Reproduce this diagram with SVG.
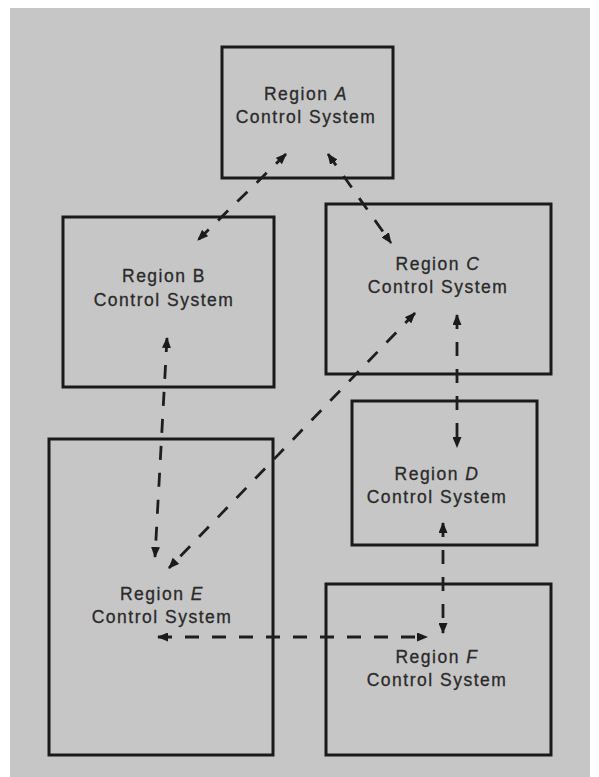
<svg xmlns="http://www.w3.org/2000/svg" width="599" height="777" viewBox="0 0 599 777">
  <defs>
    <marker id="arrow" viewBox="0 0 11 9" refX="10" refY="4.5" markerWidth="11" markerHeight="9" markerUnits="userSpaceOnUse" orient="auto-start-reverse">
      <path d="M0,0 L11,4.5 L0,9 z" fill="#1a1a1a"/>
    </marker>
  </defs>
  <style>
    .box { fill: none; stroke: #1a1a1a; stroke-width: 3; }
    .label { font-family: "Liberation Sans", Arial, sans-serif; font-size: 17.5px; letter-spacing: 1.5px; fill: #2a2a2a; stroke: #2a2a2a; stroke-width: 0.3; text-anchor: middle; }
    .link { fill: none; stroke: #1e1e1e; stroke-width: 2.8; stroke-dasharray: 14 13; marker-start: url(#arrow); marker-end: url(#arrow); }
  </style>

  <!-- page -->
  <rect x="0" y="0" width="599" height="777" fill="#ffffff"/>
  <rect x="10" y="8" width="580" height="769" fill="#c6c6c6"/>

  <g id="region-a">
    <rect class="box" x="222" y="47" width="171" height="131"/>
    <text class="label" x="306" y="100">Region <tspan font-style="italic">A</tspan></text>
    <text class="label" x="306" y="123">Control System</text>
  </g>

  <g id="region-b">
    <rect class="box" x="63" y="217" width="211" height="170"/>
    <text class="label" x="164" y="282">Region B</text>
    <text class="label" x="164" y="306">Control System</text>
  </g>

  <g id="region-c">
    <rect class="box" x="326" y="204" width="225" height="170"/>
    <text class="label" x="438" y="270">Region <tspan font-style="italic">C</tspan></text>
    <text class="label" x="438" y="293">Control System</text>
  </g>

  <g id="region-d">
    <rect class="box" x="352" y="401" width="185" height="144"/>
    <text class="label" x="437" y="480">Region <tspan font-style="italic">D</tspan></text>
    <text class="label" x="437" y="503">Control System</text>
  </g>

  <g id="region-e">
    <rect class="box" x="49" y="439" width="224" height="316"/>
    <text class="label" x="162" y="600">Region <tspan font-style="italic">E</tspan></text>
    <text class="label" x="162" y="623">Control System</text>
  </g>

  <g id="region-f">
    <rect class="box" x="326" y="584" width="225" height="171"/>
    <text class="label" x="437" y="663">Region <tspan font-style="italic">F</tspan></text>
    <text class="label" x="437" y="686">Control System</text>
  </g>

  <g id="connectors">
    <!-- A <-> B -->
    <line class="link" x1="286" y1="154" x2="198" y2="240"/>
    <!-- A <-> C -->
    <line class="link" x1="328" y1="154" x2="391" y2="243"/>
    <!-- B <-> E -->
    <line class="link" x1="167" y1="338" x2="155" y2="557"/>
    <!-- C <-> E -->
    <line class="link" x1="415" y1="313" x2="169" y2="568"/>
    <!-- C <-> D -->
    <line class="link" x1="457" y1="315" x2="457" y2="447"/>
    <!-- D <-> F -->
    <line class="link" x1="443" y1="523" x2="443" y2="633"/>
    <!-- E <-> F -->
    <line class="link" x1="158" y1="637" x2="427" y2="637"/>
  </g>
</svg>
